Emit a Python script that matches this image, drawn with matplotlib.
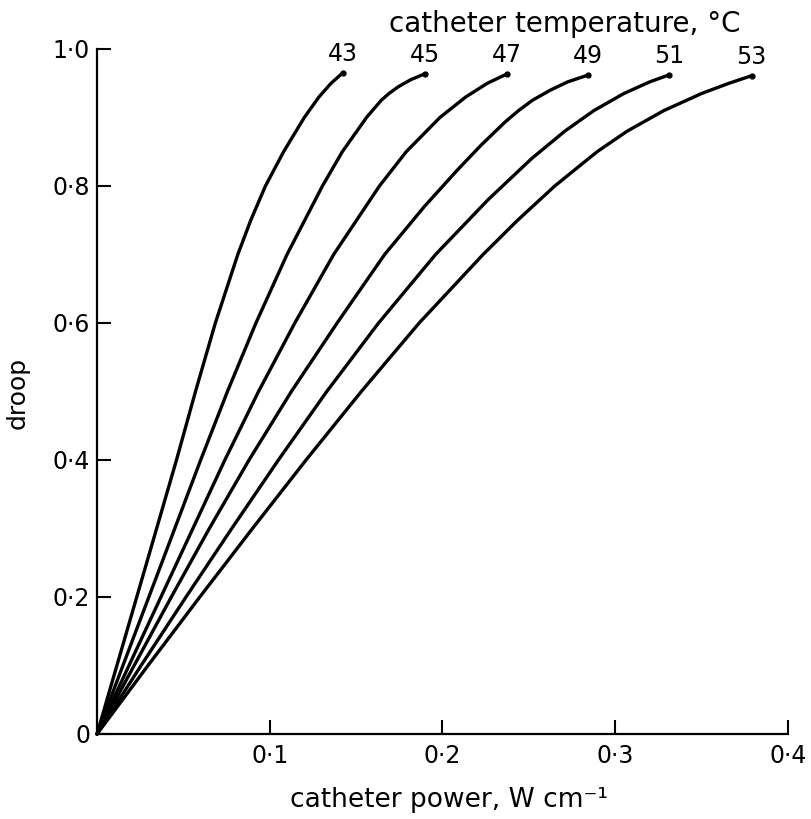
import matplotlib
matplotlib.use("Agg")
import matplotlib.pyplot as plt

# ---- data ----
temperatures = ["43", "45", "47", "49", "51", "53"]

y43 = [0, 0.10, 0.20, 0.30, 0.40, 0.50, 0.60, 0.70, 0.75, 0.80, 0.85, 0.90, 0.93, 0.95, 0.965]
x43 = [0, 0.0115, 0.023, 0.0345, 0.046, 0.057, 0.0685, 0.0815, 0.089, 0.0975, 0.108, 0.120, 0.1285, 0.1355, 0.1422]

y45 = [0, 0.10, 0.20, 0.30, 0.40, 0.50, 0.60, 0.70, 0.80, 0.85, 0.90, 0.925, 0.935, 0.945, 0.955, 0.964]
x45 = [0, 0.015, 0.030, 0.045, 0.060, 0.0755, 0.092, 0.110, 0.1305, 0.142, 0.156, 0.1645, 0.169, 0.1745, 0.1815, 0.190]

y47 = [0, 0.10, 0.20, 0.30, 0.40, 0.50, 0.60, 0.70, 0.80, 0.85, 0.90, 0.93, 0.95, 0.9635]
x47 = [0, 0.0185, 0.037, 0.0555, 0.074, 0.0935, 0.1145, 0.137, 0.1635, 0.179, 0.1985, 0.2135, 0.226, 0.2373]

y49 = [0, 0.10, 0.20, 0.30, 0.40, 0.50, 0.60, 0.70, 0.77, 0.823, 0.86, 0.894, 0.91, 0.925, 0.94, 0.952, 0.962]
x49 = [0, 0.0215, 0.043, 0.065, 0.088, 0.1125, 0.139, 0.1665, 0.1895, 0.2085, 0.2225, 0.2365, 0.2440, 0.2520, 0.2625, 0.2725, 0.2844]

y51 = [0, 0.10, 0.20, 0.30, 0.40, 0.50, 0.60, 0.70, 0.78, 0.84, 0.88, 0.91, 0.935, 0.952, 0.962]
x51 = [0, 0.0255, 0.0515, 0.078, 0.105, 0.133, 0.163, 0.196, 0.2264, 0.2516, 0.2708, 0.2876, 0.305, 0.320, 0.331]

y53 = [0, 0.10, 0.20, 0.30, 0.40, 0.50, 0.60, 0.70, 0.75, 0.80, 0.85, 0.88, 0.91, 0.935, 0.95, 0.961]
x53 = [0, 0.0295, 0.0595, 0.090, 0.121, 0.153, 0.1865, 0.2235, 0.2435, 0.265, 0.2895, 0.3069, 0.3281, 0.350, 0.3659, 0.379]

curves_x = [x43, x45, x47, x49, x51, x53]
curves_y = [y43, y45, y47, y49, y51, y53]

x_ticks = [0.1, 0.2, 0.3, 0.4]
x_tick_labels = ["0·1", "0·2", "0·3", "0·4"]
y_ticks = [0, 0.2, 0.4, 0.6, 0.8, 1.0]
y_tick_labels = ["0", "0·2", "0·4", "0·6", "0·8", "1·0"]

title_text = "catheter temperature, °C"
x_label = "catheter power, W cm⁻¹"
y_label = "droop"

# ---- figure ----
plt.rcParams["font.family"] = ["DejaVu Sans"]
fig = plt.figure(figsize=(8.12, 8.19), dpi=100)
ax = fig.add_axes([0.1195, 0.1038, 0.8509, 0.8364])

for xs, ys, lab in zip(curves_x, curves_y, temperatures):
    ax.plot(xs, ys, color="black", lw=2.4, solid_capstyle="round",
            solid_joinstyle="round", clip_on=False)
    ax.plot(xs[-1], ys[-1], "o", color="black", ms=3.5, clip_on=False)
    ax.annotate(lab, (xs[-1], ys[-1]), xytext=(0, 5), textcoords="offset points",
                ha="center", va="bottom", fontsize=17)

ax.set_xlim(0, 0.4)
ax.set_ylim(0, 1.0)
ax.set_xticks(x_ticks)
ax.set_xticklabels(x_tick_labels)
ax.set_yticks(y_ticks)
ax.set_yticklabels(y_tick_labels)
ax.tick_params(direction="in", length=10, width=1.5, labelsize=17, colors="black")
ax.tick_params(axis="x", pad=7)
ax.tick_params(axis="y", pad=5)

for s in ["top", "right"]:
    ax.spines[s].set_visible(False)
for s in ["left", "bottom"]:
    ax.spines[s].set_linewidth(1.6)

fig.text(0.696, 0.961, title_text, ha="center", va="baseline", fontsize=20)
fig.text(0.553, 0.023, x_label, ha="center", va="center", fontsize=19)
fig.text(0.022, 0.52, y_label, ha="center", va="center", rotation=90, fontsize=18)

fig.savefig("out.png", dpi=100, facecolor="white")
